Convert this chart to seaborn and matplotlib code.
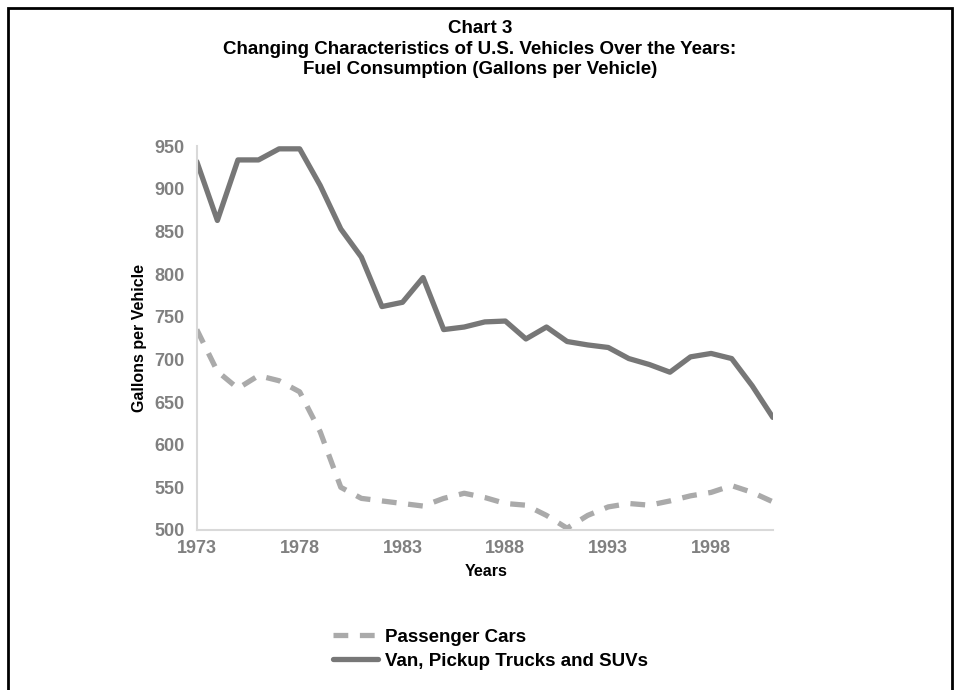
import matplotlib
matplotlib.use("Agg")
import matplotlib.pyplot as plt
import seaborn as sns
import pandas as pd
from matplotlib.patches import Rectangle

years = list(range(1973, 2002))
passenger_cars = [735, 686, 666, 681, 675, 662, 615, 550, 537, 534, 531, 528, 537, 543, 538,
                  531, 529, 517, 502, 517, 527, 531, 529, 534, 540, 544, 552, 544, 533]
trucks_suvs = [932, 863, 934, 934, 947, 947, 904, 853, 820, 762, 767, 796, 735, 738, 744,
               745, 724, 738, 721, 717, 714, 701, 694, 685, 703, 707, 701, 669, 632]
x_ticks = [1973, 1978, 1983, 1988, 1993, 1998]
y_ticks = list(range(500, 951, 50))

sns.set_style("white")
plt.rcParams['font.family'] = ['Liberation Sans', 'DejaVu Sans']
plt.rcParams['text.color'] = 'black'
plt.rcParams['axes.labelcolor'] = 'black'

df = pd.DataFrame({'Year': years, 'Passenger Cars': passenger_cars,
                   'Van, Pickup Trucks and SUVs': trucks_suvs})

fig = plt.figure(figsize=(9.6, 6.9), dpi=100)
ax = fig.add_axes([0.205, 0.232, 0.6, 0.556])

sns.lineplot(data=df, x='Year', y='Passenger Cars', ax=ax, color='#aaaaaa',
             linewidth=3.8, label='Passenger Cars')
ax.lines[-1].set_dashes((2.8, 2.2))
sns.lineplot(data=df, x='Year', y='Van, Pickup Trucks and SUVs', ax=ax, color='#777777',
             linewidth=3.8, label='Van, Pickup Trucks and SUVs')

ax.set_xlim(1973, 2001)
ax.set_ylim(500, 950)
ax.set_xticks(x_ticks)
ax.set_yticks(y_ticks)
ax.tick_params(direction='in', length=7, width=1, color='#d9d9d9', labelsize=13,
               labelcolor='#808080')
ax.tick_params(axis='x', pad=7)
ax.tick_params(axis='y', pad=9)
for lbl in ax.get_xticklabels() + ax.get_yticklabels():
    lbl.set_fontweight('bold')
for s in ['top', 'right']:
    ax.spines[s].set_visible(False)
for s in ['left', 'bottom']:
    ax.spines[s].set_color('#d9d9d9')
    ax.spines[s].set_linewidth(1.5)

ax.set_xlabel('Years', fontsize=11.5, fontweight='bold')
ax.set_ylabel('Gallons per Vehicle', fontsize=11.5, fontweight='bold')
ax.xaxis.set_label_coords(0.502, -0.09)
ax.yaxis.set_label_coords(-0.087, 0.5)

ax.get_legend().remove()
handles, labels = ax.get_legend_handles_labels()
leg = fig.legend(handles, labels, loc='upper left', bbox_to_anchor=(0.339, 0.1),
                 frameon=False, fontsize=13.5, handlelength=2.4, handletextpad=0.37,
                 labelspacing=0.37, borderaxespad=0)
for t in leg.get_texts():
    t.set_fontweight('bold')

fig.text(0.5, 0.971, 'Chart 3\nChanging Characteristics of U.S. Vehicles Over the Years:\n'
         'Fuel Consumption (Gallons per Vehicle)', ha='center', va='top',
         fontsize=13.5, fontweight='bold', linespacing=1.28)

fig.patches.append(Rectangle((0.008, -0.02), 0.984, 1.009, transform=fig.transFigure,
                             fill=False, edgecolor='black', linewidth=2))

fig.savefig('out.png', dpi=100)
plt.close(fig)
